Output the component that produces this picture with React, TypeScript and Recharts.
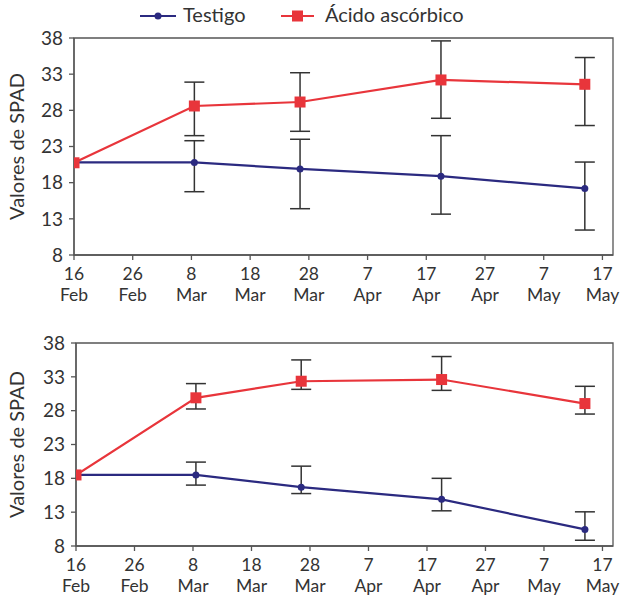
import React from 'react';
import { LineChart, Line, XAxis, YAxis, ErrorBar, ReferenceArea } from 'recharts';

// Days after 16 Feb
const tickDays = [0, 10, 20, 30, 40, 50, 60, 70, 80, 90];
const tickDayLabels = ['16', '26', '8', '18', '28', '7', '17', '27', '7', '17'];
const tickMonthLabels = ['Feb', 'Feb', 'Mar', 'Mar', 'Mar', 'Apr', 'Apr', 'Apr', 'May', 'May'];
const sampleDays = [0, 20.5, 38.5, 62.5, 87];
const yTicks = [8, 13, 18, 23, 28, 33, 38];

// Panel 1
const testigo1 = [20.8, 20.8, 19.9, 18.9, 17.2];
const testigo1Err = [null, [4.05, 3.0], [5.5, 4.1], [5.25, 5.6], [5.75, 3.65]];
const acido1 = [20.75, 28.6, 29.15, 32.2, 31.6];
const acido1Err = [null, [4.1, 3.3], [4.05, 4.05], [5.3, 5.4], [5.7, 3.7]];

// Panel 2
const testigo2 = [18.5, 18.5, 16.7, 14.9, 10.45];
const testigo2Err = [null, [1.5, 1.9], [0.95, 3.1], [1.7, 3.1], [1.6, 2.6]];
const acido2 = [18.5, 29.9, 32.35, 32.6, 29.05];
const acido2Err = [null, [1.65, 2.1], [1.2, 3.15], [1.6, 3.4], [1.55, 2.55]];

const seriesNames = ['Testigo', 'Ácido ascórbico'];

const RED = '#e8353b';
const BLUE = '#2b2a80';
const AXIS = '#555';
const TEXT = '#333';
const FONT = 'Lato, "Noto Sans", sans-serif';
const X_MAX = 91.8;

const build = (t: number[], tErr: any[], a: number[], aErr: any[]) =>
  sampleDays.map((d, i) => ({
    day: d,
    testigo: t[i],
    testigoErr: tErr[i],
    acido: a[i],
    acidoErr: aErr[i],
  }));

const data1 = build(testigo1, testigo1Err, acido1, acido1Err);
const data2 = build(testigo2, testigo2Err, acido2, acido2Err);

const XTick = (props: any) => {
  const { x, y, payload } = props;
  const i = tickDays.indexOf(payload.value);
  return (
    <g>
      <text x={x} y={y} dy={18} textAnchor="middle" fill={TEXT} fontSize={17.5} fontFamily={FONT}>
        {tickDayLabels[i]}
      </text>
      <text x={x} y={y} dy={38.5} textAnchor="middle" fill={TEXT} fontSize={17.5} fontFamily={FONT}>
        {tickMonthLabels[i]}
      </text>
    </g>
  );
};

const SquareDot = (props: any) => {
  const { cx, cy, index } = props;
  return <rect key={`sq-${index}`} x={cx - 5.5} y={cy - 5.5} width={11} height={11} fill={RED} />;
};

const RoundDot = (props: any) => {
  const { cx, cy, index } = props;
  return <circle key={`rd-${index}`} cx={cx} cy={cy} r={3.5} fill={BLUE} />;
};

const YLabel = (props: any) => {
  const { viewBox } = props;
  const cx = 16;
  const cy = viewBox.y + viewBox.height / 2;
  return (
    <text
      x={cx}
      y={cy}
      transform={`rotate(-90, ${cx}, ${cy})`}
      textAnchor="middle"
      dominantBaseline="central"
      fill={TEXT}
      fontSize={20}
      fontFamily={FONT}
    >
      Valores de SPAD
    </text>
  );
};

const Panel = ({ data, height, top, yWidth, xHeight }: any) => (
  <LineChart
    width={621}
    height={height}
    data={data}
    margin={{ top, right: 8, bottom: 0, left: 0 }}
  >
    <ReferenceArea
      x1={0}
      x2={X_MAX}
      y1={8}
      y2={38}
      fill="none"
      stroke={AXIS}
      strokeWidth={1.3}
      ifOverflow="visible"
    />
    <XAxis
      dataKey="day"
      type="number"
      domain={[0, X_MAX]}
      ticks={tickDays}
      interval={0}
      tick={<XTick />}
      tickSize={5}
      tickMargin={2}
      height={xHeight}
      stroke={AXIS}
      axisLine={{ stroke: AXIS, strokeWidth: 1.3 }}
      tickLine={{ stroke: AXIS, strokeWidth: 1.3 }}
      allowDataOverflow
    />
    <YAxis
      type="number"
      domain={[8, 38]}
      ticks={yTicks}
      interval={0}
      width={yWidth}
      tickSize={5}
      tickMargin={6}
      tick={{ fill: TEXT, fontSize: 19, fontFamily: FONT }}
      axisLine={{ stroke: AXIS, strokeWidth: 1.3 }}
      tickLine={{ stroke: AXIS, strokeWidth: 1.3 }}
      label={<YLabel />}
    />
    <Line
      dataKey="testigo"
      name={seriesNames[0]}
      stroke={BLUE}
      strokeWidth={2.2}
      dot={<RoundDot />}
      isAnimationActive={false}
    >
      <ErrorBar dataKey="testigoErr" direction="y" width={10} stroke="#333" strokeWidth={1.5} isAnimationActive={false} />
    </Line>
    <Line
      dataKey="acido"
      name={seriesNames[1]}
      stroke={RED}
      strokeWidth={2.2}
      dot={<SquareDot />}
      isAnimationActive={false}
    >
      <ErrorBar dataKey="acidoErr" direction="y" width={10} stroke="#333" strokeWidth={1.5} isAnimationActive={false} />
    </Line>
  </LineChart>
);

const LegendBar = () => (
  <svg width={621} height={34} style={{ position: 'absolute', left: 0, top: 0 }}>
    <g>
      <line x1={140} y1={16} x2={176} y2={16} stroke={BLUE} strokeWidth={2.2} />
      <circle cx={158} cy={16} r={3.5} fill={BLUE} />
      <text x={183} y={22} fill={TEXT} fontSize={20} fontFamily={FONT}>
        {seriesNames[0]}
      </text>
    </g>
    <g>
      <line x1={281} y1={16} x2={314} y2={16} stroke={RED} strokeWidth={2.2} />
      <rect x={292} y={10.5} width={11} height={11} fill={RED} />
      <text x={325} y={22} fill={TEXT} fontSize={20} fontFamily={FONT}>
        {seriesNames[1]}
      </text>
    </g>
  </svg>
);

export default function App() {
  return (
    <div
      style={{
        position: 'absolute',
        left: 0,
        top: 0,
        width: 621,
        height: 598,
        background: '#fff',
        fontFamily: FONT,
      }}
    >
      <div style={{ position: 'absolute', left: 0, top: 0 }}>
        <Panel data={data1} height={310} top={38} yWidth={74} xHeight={55} />
      </div>
      <div style={{ position: 'absolute', left: 0, top: 310 }}>
        <Panel data={data2} height={288} top={33} yWidth={76} xHeight={52} />
      </div>
      <LegendBar />
    </div>
  );
}
